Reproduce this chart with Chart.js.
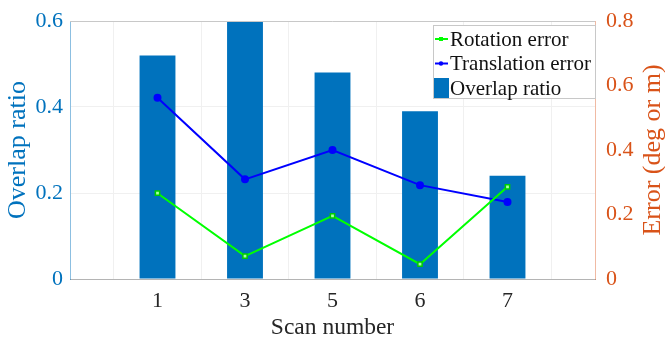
<!DOCTYPE html>
<html>
<head>
<meta charset="utf-8">
<script src="https://cdn.jsdelivr.net/npm/chart.js@4.4.1/dist/chart.umd.min.js"></script>
<style>
  html, body { margin: 0; padding: 0; background: #fff; }
  #wrap { width: 665px; height: 337px; }
</style>
</head>
<body>
<div id="wrap"><canvas id="chart" width="665" height="337"></canvas></div>
<script>
const scans = ["1", "3", "5", "6", "7"];
const overlapRatio = [0.52, 0.60, 0.48, 0.39, 0.24];
const rotationError = [0.266, 0.071, 0.196, 0.046, 0.286];
const translationError = [0.562, 0.309, 0.40, 0.291, 0.239];
const leftTicks = [0, 0.2, 0.4, 0.6];
const rightTicks = [0, 0.2, 0.4, 0.6, 0.8];

const SERIF = "'Liberation Serif', 'Times New Roman', serif";
const BLUE = "#0072BD";
const ORANGE = "#D95319";

// one empty slot at each end so the categories sit at 1..5 of 0..6
const pad = arr => [null, ...arr, null];
const labels = ["", ...scans, ""];

const fitY = s => {
  s.width = 70;
  s.paddingTop = 0;
  s.paddingBottom = 0;
};

const framePlugin = {
  id: "frame",
  afterDraw(chart) {
    const ctx = chart.ctx;
    const a = chart.chartArea;
    ctx.save();
    // top border
    ctx.strokeStyle = "#c8c8c8";
    ctx.lineWidth = 1;
    ctx.beginPath();
    ctx.moveTo(a.left, a.top + 0.5);
    ctx.lineTo(a.right, a.top + 0.5);
    ctx.stroke();

    // right axis title, reading bottom to top
    ctx.fillStyle = ORANGE;
    ctx.font = "26px " + SERIF;
    ctx.textAlign = "center";
    ctx.textBaseline = "middle";
    ctx.translate(653, (a.top + a.bottom) / 2);
    ctx.rotate(-Math.PI / 2);
    ctx.fillText("Error (deg or m)", 0, 0);
    ctx.restore();

    // legend box
    const bx = a.right - 162, by = a.top + 4, bw = 163, bh = 74;
    ctx.save();
    ctx.fillStyle = "#fff";
    ctx.fillRect(bx, by, bw, bh);
    ctx.strokeStyle = "#c8c8c8";
    ctx.lineWidth = 1;
    ctx.strokeRect(bx + 0.5, by + 0.5, bw - 1, bh - 1);
    ctx.font = "21px " + SERIF;
    ctx.textBaseline = "middle";
    ctx.textAlign = "left";
    const rows = [
      {label: "Rotation error", color: "#00ff00", type: "line", marker: "rect"},
      {label: "Translation error", color: "#0000ff", type: "line", marker: "circle"},
      {label: "Overlap ratio", color: BLUE, type: "box"}
    ];
    rows.forEach((r, i) => {
      const cy = by + 14 + i * 24.5;
      if (r.type === "line") {
        ctx.strokeStyle = r.color;
        ctx.lineWidth = 2;
        ctx.beginPath();
        ctx.moveTo(bx + 2, cy);
        ctx.lineTo(bx + 15, cy);
        ctx.stroke();
        ctx.fillStyle = r.color;
        if (r.marker === "rect") {
          ctx.fillRect(bx + 6, cy - 2, 4, 4);
        } else {
          ctx.beginPath();
          ctx.arc(bx + 8, cy, 2.2, 0, Math.PI * 2);
          ctx.fill();
        }
      } else {
        ctx.fillStyle = r.color;
        ctx.fillRect(bx + 1, cy - 10, 15, 20);
      }
      ctx.fillStyle = "#111";
      ctx.fillText(r.label, bx + 17, cy + 1);
    });
    ctx.restore();
  }
};

new Chart(document.getElementById("chart"), {
  data: {
    labels,
    datasets: [
      {
        type: "line",
        label: "Rotation error",
        data: pad(rotationError),
        yAxisID: "y1",
        borderColor: "#00ff00",
        borderWidth: 2,
        pointStyle: "rect",
        pointRadius: 3,
        pointBorderWidth: 1.5,
        pointBackgroundColor: "#a8ffa8",
        pointBorderColor: "#00cc00",
        tension: 0,
        order: 1
      },
      {
        type: "line",
        label: "Translation error",
        data: pad(translationError),
        yAxisID: "y1",
        borderColor: "#0000ff",
        borderWidth: 2,
        pointStyle: "circle",
        pointRadius: 3,
        pointBackgroundColor: "#0000ff",
        pointBorderColor: "#0000ff",
        tension: 0,
        order: 1
      },
      {
        type: "bar",
        label: "Overlap ratio",
        data: pad(overlapRatio),
        yAxisID: "y",
        backgroundColor: BLUE,
        borderWidth: 0,
        barPercentage: 0.41,
        categoryPercentage: 1,
        order: 2
      }
    ]
  },
  options: {
    responsive: false,
    animation: false,
    spanGaps: false,
    layout: {padding: {top: 21, left: 0, right: 0, bottom: 0}},
    plugins: {legend: {display: false}, tooltip: {enabled: false}},
    scales: {
      x: {
        type: "category",
        offset: false,
        afterFit: s => { s.height = 58; s.paddingLeft = 0; s.paddingRight = 0; },
        border: {color: "#b4b4b4", width: 1},
        grid: {color: "#f0f0f0", drawTicks: false},
        ticks: {color: "#262626", font: {family: SERIF, size: 22}, padding: 9, maxRotation: 0, autoSkip: false},
        title: {display: true, text: "Scan number", color: "#262626", font: {family: SERIF, size: 23.5}, padding: {top: 0, bottom: -5}}
      },
      y: {
        position: "left",
        min: 0,
        max: 0.6,
        afterFit: fitY,
        afterBuildTicks: s => { s.ticks = leftTicks.map(v => ({value: v})); },
        border: {color: "rgba(0,114,189,0.45)", width: 1},
        grid: {color: "#f0f0f0", drawTicks: false},
        ticks: {color: BLUE, font: {family: SERIF, size: 22}, padding: 7},
        title: {display: true, text: "Overlap ratio", color: BLUE, font: {family: SERIF, size: 26}, padding: {top: 3, bottom: 0}}
      },
      y1: {
        position: "right",
        min: 0,
        max: 0.8,
        afterFit: fitY,
        afterBuildTicks: s => { s.ticks = rightTicks.map(v => ({value: v})); },
        border: {color: "rgba(217,83,25,0.4)", width: 1},
        grid: {display: false, drawTicks: false},
        ticks: {color: ORANGE, font: {family: SERIF, size: 22}, padding: 11}
      }
    }
  },
  plugins: [framePlugin]
});
</script>
</body>
</html>
